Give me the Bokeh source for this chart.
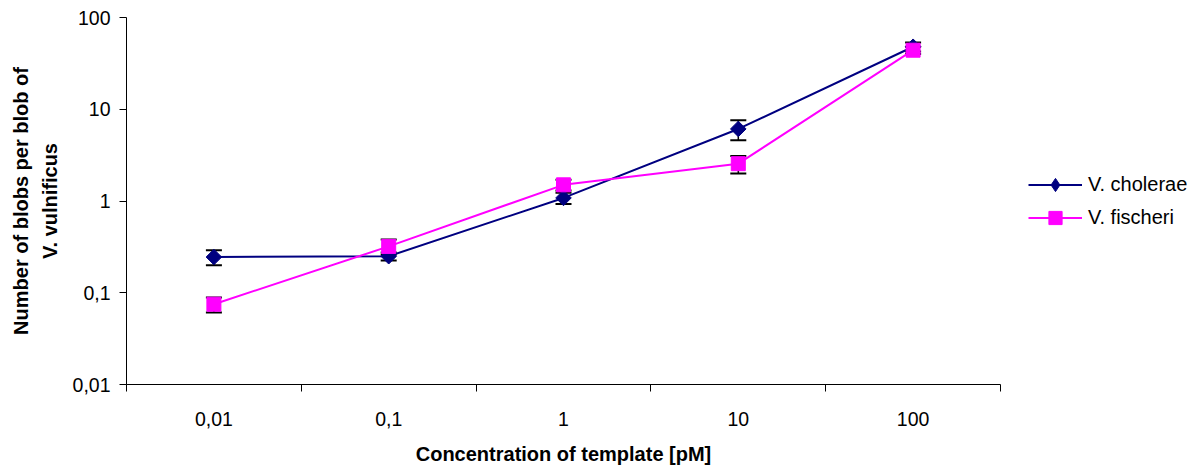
import numpy as np
from bokeh.plotting import figure
from bokeh.models import (ColumnDataSource, Range1d, FixedTicker, Whisker, TeeHead,
                          Legend, LegendItem, CustomJSTickFormatter, LogAxis, LinearAxis)
from bokeh.embed import file_html
from bokeh.resources import INLINE

# ---- data ----
categories = ["0,01", "0,1", "1", "10", "100"]
cholerae = [0.245, 0.25, 1.08, 6.1, 48.0]
cholerae_err = [0.045, 0.025, 0.15, 1.5, 5.5]
fischeri = [0.075, 0.32, 1.5, 2.55, 44.0]
fischeri_err = [0.014, 0.06, 0.2, 0.55, 4.0]
y_ticks = [0.01, 0.1, 1, 10, 100]

FONT = "Liberation Sans"
NAVY = "#000080"
MAGENTA = "#FF00FF"

xpos = list(range(len(categories)))

p = figure(output_backend="svg", toolbar_location=None,
           x_range=Range1d(-0.5, len(categories) - 0.5),
           y_range=Range1d(0.01, 100), y_axis_type="log",
           frame_width=874, frame_height=367,
           min_border_left=126, min_border_top=17, min_border_bottom=78, min_border_right=190,
           x_axis_location=None, y_axis_location=None)
p.outline_line_color = None
p.xgrid.visible = False
p.ygrid.visible = False
p.background_fill_color = "white"
p.border_fill_color = "white"

# x axis
xaxis = LinearAxis(ticker=FixedTicker(ticks=xpos,
                                      minor_ticks=[i - 0.5 for i in range(len(categories) + 1)]))
xaxis.major_label_overrides = {i: c for i, c in enumerate(categories)}
xaxis.major_tick_out = 0
xaxis.major_tick_in = 0
xaxis.minor_tick_out = 7
xaxis.minor_tick_in = 0
xaxis.minor_tick_line_color = "black"
xaxis.axis_line_color = "black"
xaxis.major_label_standoff = 20
xaxis.major_label_text_font = FONT
xaxis.major_label_text_font_size = "19.5px"
xaxis.major_label_text_color = "black"
xaxis.axis_label = "Concentration of template [pM]"
xaxis.axis_label_text_font = FONT
xaxis.axis_label_text_font_style = "bold"
xaxis.axis_label_text_font_size = "20px"
xaxis.axis_label_text_color = "black"
xaxis.axis_label_standoff = 14
p.add_layout(xaxis, "below")

# y axis
yaxis = LogAxis(ticker=FixedTicker(ticks=y_ticks, minor_ticks=[]))
yaxis.formatter = CustomJSTickFormatter(code="return tick.toString().replace('.', ',');")
yaxis.major_tick_out = 7
yaxis.major_tick_in = 0
yaxis.major_tick_line_color = "black"
yaxis.minor_tick_line_color = None
yaxis.axis_line_color = "black"
yaxis.major_label_standoff = 9
yaxis.major_label_text_font = FONT
yaxis.major_label_text_font_size = "19.5px"
yaxis.major_label_text_color = "black"
yaxis.axis_label = "Number of blobs per blob of\nV. vulnificus"
yaxis.axis_label_text_font = FONT
yaxis.axis_label_text_font_style = "bold"
yaxis.axis_label_text_font_size = "20px"
yaxis.axis_label_text_color = "black"
yaxis.axis_label_text_line_height = 1.3
yaxis.axis_label_standoff = 9
p.add_layout(yaxis, "left")


def series(vals, errs, color, marker, size, angle):
    src = ColumnDataSource(dict(
        x=xpos, y=vals,
        upper=[v + e for v, e in zip(vals, errs)],
        lower=[v - e for v, e in zip(vals, errs)],
    ))
    ln = p.line("x", "y", source=src, line_color=color, line_width=2)
    w = Whisker(source=src, base="x", upper="upper", lower="lower",
                line_color="black", line_width=1.5,
                upper_head=TeeHead(size=16, line_width=2, line_color="black"),
                lower_head=TeeHead(size=16, line_width=2, line_color="black"))
    p.add_layout(w)
    sc = p.scatter("x", "y", source=src, marker=marker, size=size, angle=angle,
                   fill_color=color, line_color=color)
    return ln, sc


ch_l, ch_s = series(cholerae, cholerae_err, NAVY, "square", 11, np.pi / 4)
fi_l, fi_s = series(fischeri, fischeri_err, MAGENTA, "square", 14, 0)

# legend-only marker renderers: one point placed outside the visible x range
ch_leg = p.scatter(x=[-10], y=[1], marker="diamond", size=15, fill_color=NAVY, line_color=NAVY)
fi_leg = p.scatter(x=[-10], y=[1], marker="square", size=15, fill_color=MAGENTA, line_color=MAGENTA)

legend = Legend(items=[LegendItem(label="V. cholerae", renderers=[ch_l, ch_leg]),
                       LegendItem(label="V. fischeri", renderers=[fi_l, fi_leg])],
                location=(28, 150))
legend.border_line_color = None
legend.background_fill_alpha = 0
legend.padding = 0
legend.margin = 0
legend.spacing = 0
legend.glyph_width = 54
legend.glyph_height = 33
legend.label_height = 33
legend.label_standoff = 6
legend.label_text_font = FONT
legend.label_text_font_size = "20px"
legend.label_text_color = "black"
p.add_layout(legend, "right")

open("out.html", "w").write(file_html(p, INLINE))
